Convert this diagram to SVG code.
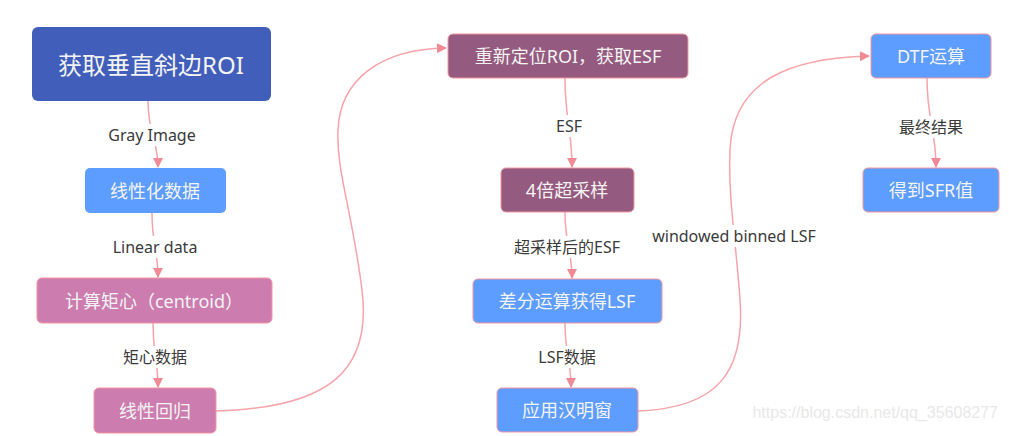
<svg xmlns="http://www.w3.org/2000/svg" width="1009" height="436" viewBox="0 0 1009 436">
<defs>
<marker id="ah" viewBox="0 0 10 10" refX="9" refY="5" markerWidth="10" markerHeight="10" markerUnits="userSpaceOnUse" orient="auto">
<path d="M0,0 L10,5 L0,10 z" fill="#F08A94"/>
</marker>
<style>
.e{fill:none;stroke:#F7A3A9;stroke-width:1.5;marker-end:url(#ah)}
.lb{fill:#fff}
.lt{font-family:"Noto Sans","Noto Sans CJK SC",sans-serif;font-size:16px;fill:#3a3a3a;text-anchor:middle;dominant-baseline:central}
.nt{font-family:"Noto Sans","Noto Sans CJK SC",sans-serif;font-size:18px;fill:#F4F4F4;text-anchor:middle;dominant-baseline:central}
.blue{fill:#5C9DFF;stroke:#F4959E;stroke-width:1}
.pink{fill:#CC7CAE;stroke:#F4959E;stroke-width:1}
.purple{fill:#955A7F;stroke:#F4959E;stroke-width:1}
</style>
</defs>
<rect width="1009" height="436" fill="#fff"/>
<g id="connectors">
<path class="e" d="M148,101 C148,135 158,140 158,167"/>
<path class="e" d="M152,213 C152,245 158,250 158,277"/>
<path class="e" d="M153,323 C153,355 158,360 158,387"/>
<path class="e" d="M216,411 C330,408 372,370 362,290 C352,210 336,170 338,130 C340,80 380,49 446,48"/>
<path class="e" d="M565,78 C565,120 572,130 572,167"/>
<path class="e" d="M565,212 C565,245 572,250 572,278"/>
<path class="e" d="M565,323 C565,355 571,360 571,387"/>
<path class="e" d="M638,411 C720,408 745,370 740,300 C736,240 728,200 730,150 C733,80 790,58 869,56"/>
<path class="e" d="M927,78 C927,120 936,130 936,167"/>
<rect class="lb" x="104" y="124" width="96" height="22"/>
<text class="lt" x="152" y="135">Gray Image</text>
<rect class="lb" x="108" y="236" width="94" height="22"/>
<text class="lt" x="155" y="247">Linear data</text>
<rect class="lb" x="118" y="346" width="74" height="22"/>
<text class="lt" x="155" y="357">矩心数据</text>
<rect class="lb" x="548" y="115" width="44" height="22"/>
<text class="lt" x="569" y="126">ESF</text>
<rect class="lb" x="508" y="236" width="120" height="22"/>
<text class="lt" x="567" y="247">超采样后的ESF</text>
<rect class="lb" x="531" y="346" width="72" height="22"/>
<text class="lt" x="567" y="357">LSF数据</text>
<rect class="lb" x="648" y="225" width="172" height="22"/>
<text class="lt" x="734" y="236">windowed binned LSF</text>
<rect class="lb" x="895" y="116" width="72" height="22"/>
<text class="lt" x="931" y="127">最终结果</text>
</g>
<g id="n1"><rect x="32" y="27" width="239" height="74" rx="6" fill="#415EBB"/><text class="nt" x="151" y="64" style="font-size:24px">获取垂直斜边ROI</text></g>
<g id="n2"><rect x="85" y="168" width="141" height="45" rx="5" fill="#5C9DFF"/><text class="nt" x="155" y="190.5">线性化数据</text></g>
<g id="n3"><rect class="pink" x="37" y="278" width="235" height="45" rx="5"/><text class="nt" x="154" y="300.5">计算矩心（centroid）</text></g>
<g id="n4"><rect class="pink" x="94" y="388" width="122" height="45" rx="5"/><text class="nt" x="155" y="410.5">线性回归</text></g>
<g id="n5"><rect class="purple" x="448" y="34" width="240" height="44" rx="5"/><text class="nt" x="568" y="56">重新定位ROI，获取ESF</text></g>
<g id="n6"><rect class="purple" x="501" y="168" width="133" height="44" rx="5"/><text class="nt" x="567" y="190">4倍超采样</text></g>
<g id="n7"><rect class="blue" x="473" y="279" width="189" height="44" rx="5"/><text class="nt" x="567" y="301">差分运算获得LSF</text></g>
<g id="n8"><rect class="blue" x="497" y="388" width="141" height="44" rx="5"/><text class="nt" x="567" y="410">应用汉明窗</text></g>
<g id="n9"><rect class="blue" x="871" y="34" width="120" height="44" rx="5"/><text class="nt" x="931" y="56">DTF运算</text></g>
<g id="n10"><rect class="blue" x="863" y="168" width="136" height="44" rx="5"/><text class="nt" x="931" y="190">得到SFR值</text></g>
<text x="998" y="418" text-anchor="end" font-family="Liberation Sans, sans-serif" font-size="16" fill="#E8E8E8">https://blog.csdn.net/qq_35608277</text>
</svg>
